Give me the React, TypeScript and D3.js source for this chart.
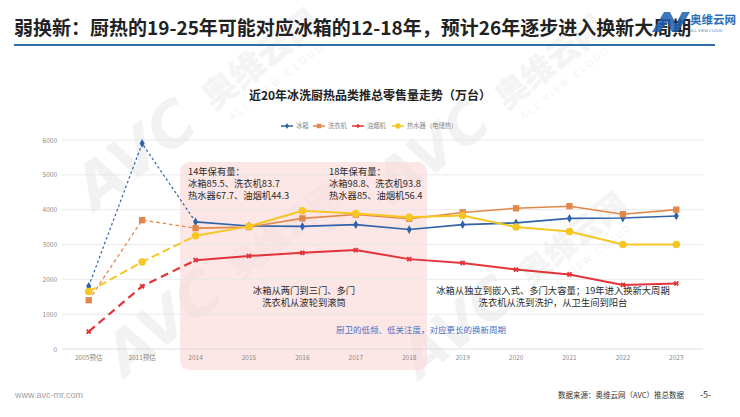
import React from "react";
import { scalePoint, scaleLinear, line as d3line, symbol, symbolDiamond, symbolSquare, symbolCircle, symbolCross } from "d3";

const categories = ["2005预估", "2011预估", "2014", "2015", "2016", "2017", "2018", "2019", "2020", "2021", "2022", "2023"];
const yTicks = [0, 1000, 2000, 3000, 4000, 5000, 6000];

const fridge = [1800, 5900, 3650, 3530, 3520, 3570, 3430, 3570, 3620, 3750, 3760, 3820];
const washer = [1400, 3700, 3470, 3500, 3750, 3860, 3740, 3920, 4040, 4100, 3870, 4000];
const hood = [500, 1800, 2550, 2670, 2760, 2840, 2580, 2470, 2280, 2140, 1840, 1880];
const heater = [1650, 2500, 3250, 3520, 3970, 3890, 3780, 3830, 3500, 3370, 3000, 3000];

const series = [
  { name: "冰箱", values: fridge, color: "#2f62a8", width: 1.6, dash: "2.5,2.5", dashWidth: 1.2, marker: symbolDiamond, size: 22 },
  { name: "洗衣机", values: washer, color: "#e2874a", width: 1.6, dash: "3.5,3", dashWidth: 1.3, marker: symbolSquare, size: 40 },
  { name: "油烟机", values: hood, color: "#e2343a", width: 2, dash: "8,5", dashWidth: 2.2, marker: symbolCross, size: 18 },
  { name: "热水器（电储热）", values: heater, color: "#f6c624", width: 2, dash: "8,4", dashWidth: 2, marker: symbolCircle, size: 45 },
];

const FONT = "'Noto Sans CJK SC', 'Noto Sans', sans-serif";

function Watermark({ x, y, scale = 1 }: { x: number; y: number; scale?: number }) {
  return (
    <g transform={`translate(${x},${y}) rotate(-38) scale(${scale})`} opacity={0.34} fontFamily={FONT}>
      <text x={0} y={0} fontSize={78} fontWeight={900} fontStyle="italic" fill="#dcdcdc" fontFamily="'DejaVu Sans', sans-serif">AVC</text>
      <text x={200} y={-8} fontSize={44} fontWeight={900} fill="#e0e0e0">奥维云网</text>
      <text x={210} y={16} fontSize={13} fill="#e0e0e0" letterSpacing={3} fontFamily="'DejaVu Sans', sans-serif">ALL VIEW CLOUD</text>
    </g>
  );
}

export default function App() {
  const W = 740;
  const H = 417;
  const x = scalePoint<string>().domain(categories).range([62, 703]).padding(0.5);
  const y = scaleLinear().domain([0, 6000]).range([349, 140]);

  const mkLine = d3line<number>()
    .x((_, i) => x(categories[i]) as number)
    .y((d) => y(d));

  const legendX = [281, 313, 352, 392];
  const legendTextX = [296, 328, 367, 407];

  return (
    <svg width={W} height={H} style={{ position: "absolute", left: 0, top: 0, background: "#fff" }} fontFamily={FONT}>
      <rect width={W} height={H} fill="#fff" />

      {/* watermarks */}
      <Watermark x={95} y={212} scale={0.78} />
      <Watermark x={395} y={205} scale={0.73} />
      <Watermark x={125} y={378} scale={0.75} />
      <Watermark x={420} y={380} scale={0.72} />

      {/* header */}
      <text x={14} y={35} fontSize={19} fontWeight={700} fill="#222">
        弱换新：厨热的19-25年可能对应冰箱的12-18年，预计26年逐步进入换新大周期
      </text>
      <line x1={14} x2={715} y1={45} y2={45} stroke="#2e6fa8" strokeWidth={2} />

      {/* logo */}
      <g>
        <path d="M652,32 L664,12 L670,12 L676,24 L682,12 L690,12 L678,32 L672,32 L667,22 L660,32 Z" fill="#1f5fae" opacity={0.85} />
        <text x={690} y={24} fontSize={11.5} fontWeight={700} fill="#2d6db5">奥维云网</text>
        <text x={690} y={32} fontSize={3.8} fill="#5b83b8" fontFamily="'DejaVu Sans', sans-serif">ALL VIEW CLOUD</text>
      </g>

      {/* pink highlight */}
      <rect x={180} y={162} width={247} height={208} rx={9} fill="#fbd6d6" opacity={0.62} />

      {/* chart title */}
      <text x={370} y={100} textAnchor="middle" fontSize={12} fontWeight={700} fill="#222">
        近20年冰洗厨热品类推总零售量走势（万台）
      </text>

      {/* legend */}
      {series.map((s, i) => (
        <g key={s.name}>
          <line x1={legendX[i]} x2={legendX[i] + 12} y1={126} y2={126} stroke={s.color} strokeWidth={1.5} />
          <path d={symbol(s.marker, s.size * 0.5)() as string} transform={`translate(${legendX[i] + 6},126)`} fill={s.color} />
          <text x={legendTextX[i]} y={128.3} fontSize={6.3} fill="#888">{s.name}</text>
        </g>
      ))}

      {/* grid + y axis */}
      {yTicks.map((t) => (
        <g key={t}>
          <line x1={62} x2={703} y1={y(t)} y2={y(t)} stroke={t === 0 ? "#d6d6d6" : "#e6e6e6"} strokeWidth={0.8} />
          <text x={57} y={y(t) + 2.5} textAnchor="end" fontSize={6.5} fill="#8a8a8a">{t}</text>
        </g>
      ))}

      {/* x axis labels */}
      {categories.map((c) => (
        <text key={c} x={x(c)} y={360} textAnchor="middle" fontSize={6.5} fill="#8a8a8a">{c}</text>
      ))}

      {/* series */}
      {series.map((s) => (
        <g key={s.name}>
          <path d={mkLine(s.values.slice(0, 3)) as string} fill="none" stroke={s.color} strokeWidth={s.dashWidth} strokeDasharray={s.dash} />
          <path
            d={d3line<number>().x((_, i) => x(categories[i + 2]) as number).y((d) => y(d))(s.values.slice(2)) as string}
            fill="none"
            stroke={s.color}
            strokeWidth={s.width}
          />
          {s.values.map((v, i) => (
            <path
              key={i}
              d={symbol(s.marker, s.size)() as string}
              transform={`translate(${x(categories[i])},${y(v)})${s.marker === symbolCross ? " rotate(45)" : ""}`}
              fill={s.color}
            />
          ))}
        </g>
      ))}

      {/* annotations */}
      <g fontSize={9.3} fill="#2a2a2a">
        <text x={188} y={175}>14年保有量：</text>
        <text x={188} y={187}>冰箱85.5、洗衣机83.7</text>
        <text x={188} y={199}>热水器67.7、油烟机44.3</text>
        <text x={329} y={175}>18年保有量：</text>
        <text x={329} y={187}>冰箱98.8、洗衣机93.8</text>
        <text x={329} y={199}>热水器85、油烟机56.4</text>
        <text x={304} y={294} textAnchor="middle">冰箱从两门到三门、多门</text>
        <text x={304} y={306} textAnchor="middle">洗衣机从波轮到滚筒</text>
        <text x={553} y={294} textAnchor="middle">冰箱从独立到嵌入式、多门大容量；19年进入换新大周期</text>
        <text x={553} y={306} textAnchor="middle">洗衣机从洗到洗护，从卫生间到阳台</text>
      </g>
      <text x={336} y={333} fontSize={8.5} fill="#4472c4">厨卫的低频、低关注度，对应更长的换新周期</text>

      {/* footer */}
      <text x={15} y={398} fontSize={9} fill="#a0a0a0" fontFamily="'Liberation Sans', sans-serif">www.avc-mr.com</text>
      <text x={684} y={398} textAnchor="end" fontSize={7.5} fill="#333">数据来源：奥维云网（AVC）推总数据</text>
      <text x={700} y={398} fontSize={9} fill="#333">-5-</text>
    </svg>
  );
}
